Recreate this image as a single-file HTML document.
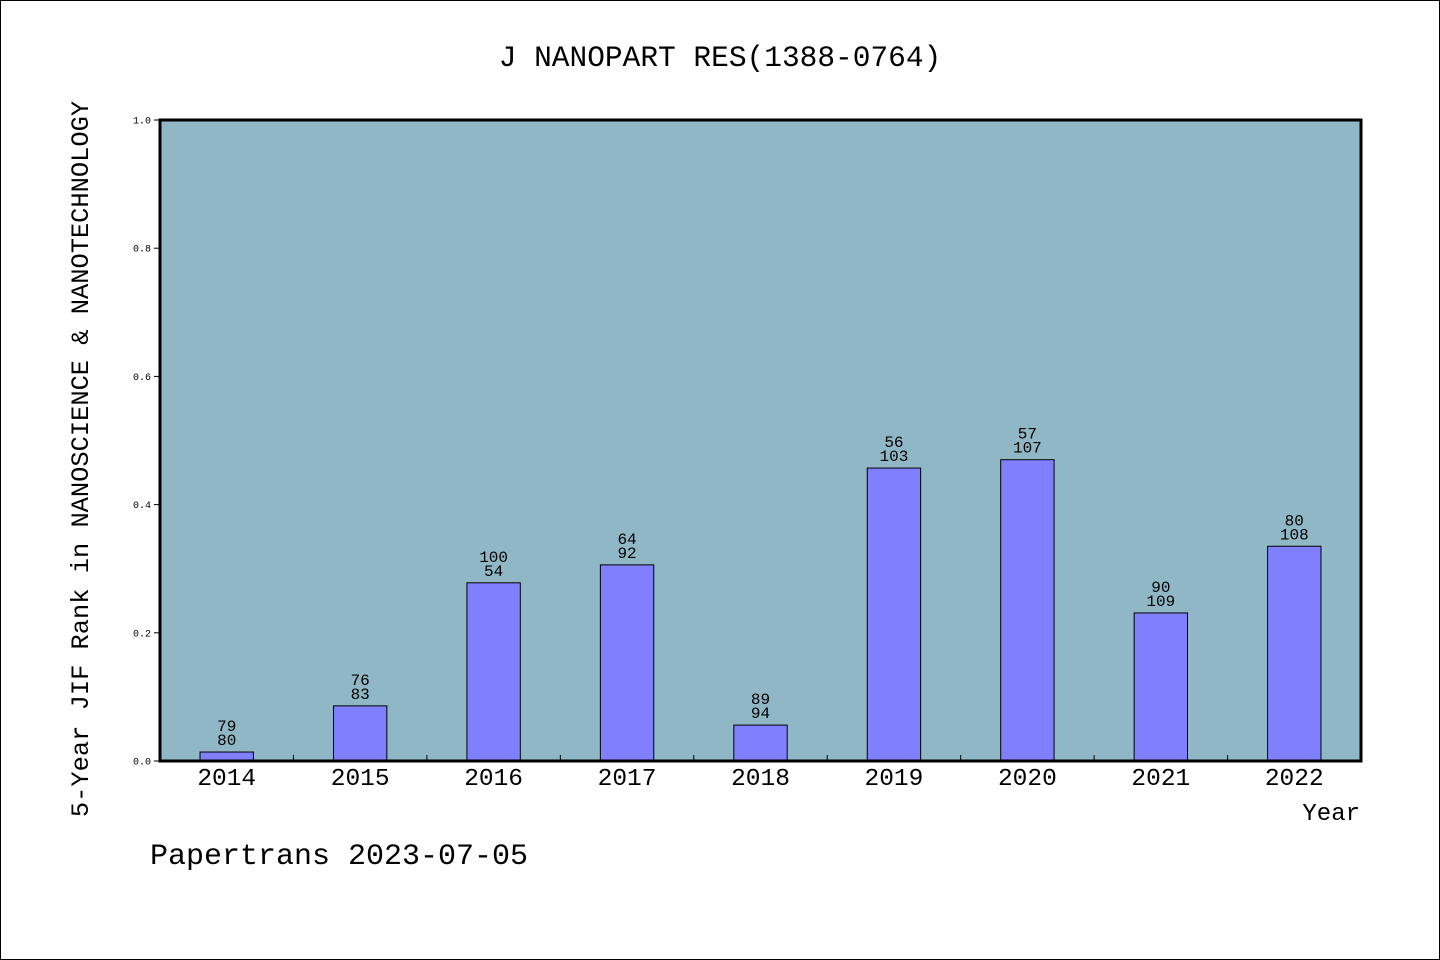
<!DOCTYPE html>
<html><head><meta charset="utf-8"><style>
html,body{margin:0;padding:0;background:#fff;}
svg{display:block;}
text{font-family:"Liberation Mono","WenQuanYi Zen Hei",monospace;fill:#000;}
</style></head><body>
<svg id="chart" width="1440" height="960" viewBox="0 0 1440 960" xmlns="http://www.w3.org/2000/svg">
<rect x="0.5" y="0.5" width="1439" height="959" fill="#fff" stroke="#000"/>
<text x="720" y="66" font-size="29.5" text-anchor="middle">J NANOPART RES(1388-0764)</text>
<rect x="160" y="120" width="1201" height="641" fill="#8fb7c6"/>
<g id="bars"></g>
<rect x="160" y="120" width="1201" height="641" fill="none" stroke="#000" stroke-width="3"/>
<g id="axes"></g>
<text transform="translate(88,459) rotate(-90)" font-size="25.4" text-anchor="middle">5-Year JIF Rank in NANOSCIENCE &amp; NANOTECHNOLOGY</text>
<text x="1360" y="820" font-size="24" text-anchor="end">Year</text>
<text x="150" y="864" font-size="30">Papertrans 2023-07-05</text>
</svg>
<script>
const categories = ["2014","2015","2016","2017","2018","2019","2020","2021","2022"];
const values = [0.014, 0.086, 0.278, 0.306, 0.056, 0.457, 0.470, 0.231, 0.335];
const topLabels = ["79","76","100","64","89","56","57","90","80"];
const bottomLabels = ["80","83","54","92","94","103","107","109","108"];
const yTicks = [0.0, 0.2, 0.4, 0.6, 0.8, 1.0];

const NS = "http://www.w3.org/2000/svg";
const X0 = 160, X1 = 1361, Y0 = 761, Y1 = 120;
const slot = (X1 - X0) / categories.length;
const xc = i => X0 + slot * (i + 0.5);
const y = v => Y0 - (v / 1.0) * (Y0 - Y1);
function mk(tag, attrs, parent) {
  const el = document.createElementNS(NS, tag);
  for (const k in attrs) el.setAttribute(k, attrs[k]);
  parent.appendChild(el);
  return el;
}
const bars = document.getElementById('bars');
const axes = document.getElementById('axes');
const bw = slot * 0.4;
categories.forEach((c, i) => {
  const r = mk('rect', {x: xc(i) - bw / 2, y: y(values[i]), width: bw, height: Y0 - y(values[i]), fill: '#8080ff', stroke: '#000', 'stroke-width': 1}, bars);
  
  
  const t1 = mk('text', {x: xc(i), y: y(values[i]) - 21, 'font-size': 16, 'text-anchor': 'middle'}, bars);
  t1.textContent = topLabels[i];
  
  
  const t2 = mk('text', {x: xc(i), y: y(values[i]) - 7, 'font-size': 16, 'text-anchor': 'middle'}, bars);
  t2.textContent = bottomLabels[i];
  
  
  const xl = mk('text', {x: xc(i), y: 785, 'font-size': 24.5, 'text-anchor': 'middle'}, axes);
  xl.textContent = c;
  
  
  if (i > 0) {
    const tk = mk('line', {x1: X0 + slot * i, x2: X0 + slot * i, y1: Y0, y2: Y0 - 6, stroke: '#000', 'stroke-width': 1}, axes);
    
    
  }
});
yTicks.forEach(v => {
  const tk = mk('line', {x1: X0 - 6, x2: X0, y1: y(v), y2: y(v), stroke: '#000', 'stroke-width': 1}, axes);
  
  
  const tl = mk('text', {x: 151, y: y(v) + 3.5, 'font-size': 10, 'text-anchor': 'end'}, axes);
  tl.textContent = v.toFixed(1);
  
  
});
</script>
</body></html>
